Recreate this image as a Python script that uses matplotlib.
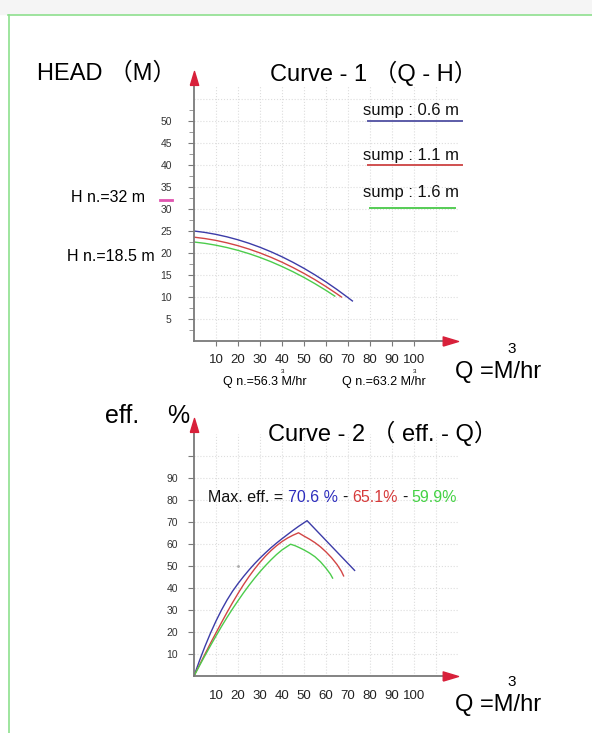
import numpy as np
import matplotlib
matplotlib.use('Agg')
import matplotlib.pyplot as plt
from matplotlib.path import Path
from matplotlib.lines import Line2D
from matplotlib.patches import Rectangle

W, H = 592, 733
plt.rcParams['font.family'] = ['Liberation Sans', 'Noto Sans CJK SC']

# Curve 1 (Q-H) for the three sump levels
q_blue = [0, 5, 10, 15, 20, 25, 30, 35, 40, 45, 50, 55, 60, 65, 70, 72]
h_blue = [25.0, 24.67, 24.23, 23.67, 23.0, 22.21, 21.3, 20.28, 19.14, 17.88,
          16.51, 15.02, 13.42, 11.7, 9.86, 9.1]
q_red = [0, 5, 10, 15, 20, 25, 30, 35, 40, 45, 50, 55, 60, 65, 67]
h_red = [23.6, 23.28, 22.86, 22.31, 21.66, 20.89, 20.01, 19.02, 17.91, 16.69,
         15.36, 13.93, 12.37, 10.7, 10.0]
q_green = [0, 5, 10, 15, 20, 25, 30, 35, 40, 45, 50, 55, 60, 64]
h_green = [22.5, 22.19, 21.77, 21.24, 20.6, 19.85, 18.99, 18.02, 16.93, 15.74,
           14.44, 13.02, 11.5, 10.2]

# Curve 2 (eff-Q)
qe_blue = [0, 2.5, 5, 7.5, 10, 12.5, 15, 17.5, 20, 22.5, 25, 27.5, 30, 32.5, 35,
           37.5, 40, 42.5, 45, 47.5, 51.4, 62, 73]
eff_blue = [0, 7, 13.5, 19.5, 25, 30, 34.5, 38.5, 42, 45.2, 48.2, 51, 53.6, 56, 58.3,
            60.4, 62.4, 64.3, 66.2, 68.0, 70.6, 59.5, 48]
qe_red = [0, 2.5, 5, 7.5, 10, 12.5, 15, 17.5, 20, 22.5, 25, 27.5, 30, 32.5, 35,
          37.5, 40, 42.5, 45, 47.5, 50, 52.5, 55, 57.5, 60, 62.5, 65, 67, 68]
eff_red = [0, 5, 10, 14.9, 19.6, 24.3, 28.9, 33.3, 37.5, 41.5, 45.2, 48.6, 51.7, 54.5, 57,
           59.2, 61.1, 62.7, 64, 65.1, 63.6, 62.2, 60.6, 58.7, 56.4, 53.8, 50.7, 47.6, 45.5]
qe_green = [0, 2.5, 5, 7.5, 10, 12.5, 15, 17.5, 20, 22.5, 25, 27.5, 30, 32.5, 35,
            37.5, 40, 43.9, 46, 48, 50, 52.5, 55, 57.5, 60, 62, 63]
eff_green = [0, 4.7, 9.3, 13.8, 18.2, 22.5, 26.6, 30.5, 34.2, 37.8, 41.2, 44.4, 47.4, 50.2, 52.8,
             55.2, 57.3, 59.9, 59.2, 58.3, 57.3, 55.9, 54.2, 51.9, 49, 46.3, 44.5]

sump_labels = ['sump : 0.6 m', 'sump : 1.1 m', 'sump : 1.6 m']
max_eff = ['70.6 %', '65.1%', '59.9%']
h_nominal = 32

q_ticks = list(range(10, 110, 10))
h_ticks = list(range(5, 55, 5))
h_minor = list(np.arange(2.5, 55, 2.5))
e_ticks = list(range(10, 110, 10))
e_labels = [str(v) if v < 100 else '' for v in e_ticks]

c_blue, c_red, c_green = '#3c3ca8', '#d24545', '#4ccc4c'
c_red_arrow = '#d8203a'
c_axis = '#7a7a7a'


def fx(x):
    return x / W


def fy(y):
    return 1 - y / H


fig = plt.figure(figsize=(W / 100, H / 100), dpi=100)
fig.patch.set_facecolor('white')

# page frame
fig.add_artist(Rectangle((0, fy(14)), 1, 1 - fy(14), transform=fig.transFigure,
                         color='#f5f5f5', zorder=0))
fig.add_artist(Line2D([fx(8), 1], [fy(14.5), fy(14.5)], color='#8ee08e', lw=1.2))
fig.add_artist(Line2D([fx(8.5), fx(8.5)], [fy(14.5), 0], color='#8ee08e', lw=1.2))

arrow_right = Path([(-2, -0.6), (0, 0), (-2, 0.6), (-2, -0.6)])
arrow_up = Path([(-0.6, -2), (0, 0), (0.6, -2), (-0.6, -2)])


def setup(ax):
    ax.set_facecolor('none')
    for s in ax.spines.values():
        s.set_visible(False)
    ax.plot([0, 0.97], [0, 0], transform=ax.transAxes, color=c_axis, lw=1.3,
            clip_on=False, zorder=3)
    ax.plot([0, 0], [0, 0.97], transform=ax.transAxes, color=c_axis, lw=1.3,
            clip_on=False, zorder=3)
    ax.plot(1, 0, marker=arrow_right, markersize=22, color=c_red_arrow,
            transform=ax.transAxes, clip_on=False, zorder=4)
    ax.plot(0, 1, marker=arrow_up, markersize=20, color=c_red_arrow,
            transform=ax.transAxes, clip_on=False, zorder=4)


# ---- Curve 1 ----
ax1 = fig.add_axes([fx(194), fy(341), 264 / W, (341 - 71) / H])
ax1.set_xlim(0, 120)
ax1.set_ylim(0, (341 - 71) / 4.4)
setup(ax1)
ax1.hlines(np.arange(5, 60, 5), 0, 120, colors='#dddddd', linestyles=':', lw=0.8, zorder=0)
ax1.vlines(q_ticks + [110], 0, 58, colors='#dddddd', linestyles=':', lw=0.8, zorder=0)
ax1.set_yticks(h_ticks)
ax1.set_yticks(h_minor, minor=True)
ax1.set_xticks(q_ticks)
ax1.tick_params(axis='y', which='major', direction='out', length=4.5, width=0.8,
                color=c_axis, pad=11.5, labelsize=7.5, labelcolor='#333333')
ax1.tick_params(axis='y', which='minor', direction='out', length=3.5, width=0.7,
                color='#999999')
ax1.tick_params(axis='x', direction='out', length=3.6, width=0.8, color=c_axis,
                pad=6, labelsize=9.5, labelcolor='#222222')

ax1.plot(q_blue, h_blue, color=c_blue, lw=1.0)
ax1.plot(q_red, h_red, color=c_red, lw=1.0)
ax1.plot(q_green, h_green, color=c_green, lw=1.0)
ax1.plot([-15.5, -10], [h_nominal, h_nominal], color='#e055b0', lw=2, clip_on=False)

# legend
for lab, col, yt, yl, x0, x1 in zip(sump_labels, ['#5c5ca8', '#d05050', '#55cc55'],
                                     [115, 160, 197.5], [121, 165, 208],
                                     [368, 368, 370], [462, 462, 455]):
    fig.text(fx(363), fy(yt), lab, fontsize=12, va='baseline', color='#111111')
    fig.add_artist(Line2D([fx(x0), fx(x1)], [fy(yl), fy(yl)], color=col, lw=1.4))

fig.text(fx(37), fy(80), 'HEAD （M）', fontsize=17, va='baseline')
fig.text(fx(270), fy(80.5), 'Curve - 1 （Q - H）', fontsize=17, va='baseline')
fig.text(fx(71), fy(202), 'H n.=32 m', fontsize=11.5, va='baseline')
fig.text(fx(67), fy(261), 'H n.=18.5 m', fontsize=11.5, va='baseline')
fig.text(fx(223), fy(385), 'Q n.=56.3 M/hr', fontsize=9, va='baseline')
fig.text(fx(342), fy(385), 'Q n.=63.2 M/hr', fontsize=9, va='baseline')
fig.text(fx(283), fy(373), '3', fontsize=4.5, va='baseline', ha='center')
fig.text(fx(414.5), fy(373), '3', fontsize=4.5, va='baseline', ha='center')
fig.text(fx(455), fy(378), 'Q =M/hr', fontsize=17, va='baseline')
fig.text(fx(512), fy(353), '3', fontsize=11, va='baseline', ha='center')

# ---- Curve 2 ----
ax2 = fig.add_axes([fx(194), fy(676), 264 / W, (676 - 418) / H])
ax2.set_xlim(0, 120)
ax2.set_ylim(0, (676 - 418) / 2.2)
setup(ax2)
ax2.hlines(e_ticks, 0, 120, colors='#dddddd', linestyles=':', lw=0.8, zorder=0)
ax2.vlines(q_ticks + [110], 0, 110, colors='#dddddd', linestyles=':', lw=0.8, zorder=0)
ax2.set_yticks(e_ticks)
ax2.set_yticklabels(e_labels)
ax2.set_xticks(q_ticks)
ax2.tick_params(axis='y', direction='out', length=4.5, width=0.8, color=c_axis,
                pad=7, labelsize=7.5, labelcolor='#333333')
ax2.tick_params(axis='x', length=0, pad=10, labelsize=9.5, labelcolor='#222222')

ax2.plot(qe_blue, eff_blue, color=c_blue, lw=1.0)
ax2.plot(qe_red, eff_red, color=c_red, lw=1.0)
ax2.plot(qe_green, eff_green, color=c_green, lw=1.0)
ax2.plot([20], [50], marker='.', markersize=2, color='#aaaaaa')

fig.text(fx(105), fy(423), 'eff.', fontsize=18, va='baseline')
fig.text(fx(167), fy(423), '%', fontsize=18, va='baseline')
fig.text(fx(268), fy(441.5), 'Curve - 2 （ eff. - Q）', fontsize=17, va='baseline')
fig.text(fx(455), fy(711), 'Q =M/hr', fontsize=17, va='baseline')
fig.text(fx(512), fy(686), '3', fontsize=11, va='baseline', ha='center')

renderer = fig.canvas.get_renderer()
pieces = [('Max. eff. =', '#111111'), (max_eff[0], '#2d2dbd'), ('-', '#111111'),
          (max_eff[1], '#d63a3a'), ('-', '#111111'), (max_eff[2], '#44d244')]
xpos = fx(208)
for s, c in pieces:
    t = fig.text(xpos, fy(501.7), s, fontsize=11.5, color=c, va='baseline')
    bb = t.get_window_extent(renderer)
    xpos = fx(bb.x1 + 4.5)

fig.savefig('out.png', dpi=100)
